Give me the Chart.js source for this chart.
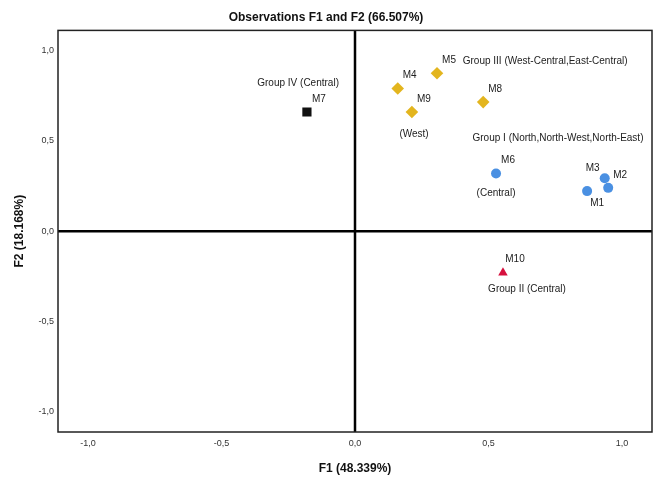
<!DOCTYPE html>
<html>
<head>
<meta charset="utf-8">
<script src="https://cdn.jsdelivr.net/npm/chart.js"></script>
<style>
  html,body{margin:0;padding:0;background:#fff;}
  #wrap{width:654px;height:477px;}
</style>
</head>
<body>
<div id="wrap"><canvas id="obs" width="654" height="477"></canvas></div>
<script>
/* ---------- DATA ---------- */
const obsNames = ["M1","M2","M3","M4","M5","M6","M7","M8","M9","M10"];
const f1Values = [0.869, 0.948, 0.935, 0.160, 0.307, 0.528, -0.180, 0.480, 0.213, 0.554];
const f2Values = [0.222, 0.240, 0.293, 0.790, 0.875, 0.320, 0.660, 0.715, 0.660, -0.230];
const groupOf  = ["I","I","I","III","III","I","IV","III","III","II"];
const tickValues = [-1, -0.5, 0, 0.5, 1];
// free text notes on the plot, in data units
const noteTexts = ["Group IV (Central)","Group III (West-Central,East-Central)","(West)",
  "Group I (North,North-West,North-East)","(Central)","Group II (Central)"];
const noteX = [-0.213, 0.712, 0.221, 0.760, 0.528, 0.644];
const noteY = [0.820, 0.942, 0.537, 0.515, 0.210, -0.321];

/* ---------- STYLES ---------- */
const groupStyle = {
  I:  {color:"#4a90e2", pointStyle:"circle",   radius:5},
  II: {color:"#d6103e", pointStyle:"triangle", radius:5.5},
  III:{color:"#e3b51e", pointStyle:"rectRot",  radius:6.3},
  IV: {color:"#111111", pointStyle:"rect",     radius:6.5}
};
const labelOffset = {M1:[10,12], M2:[12,-13], M3:[-12,-10]};
const defaultOffset = [12,-13];
const FONT = "'Liberation Sans', Arial, sans-serif";

const datasets = Object.keys(groupStyle).map(g => {
  const st = groupStyle[g];
  const idx = obsNames.map((n,i)=>i).filter(i=>groupOf[i]===g);
  return {
    label:"Group "+g,
    data: idx.map(i=>({x:f1Values[i], y:f2Values[i], name:obsNames[i]})),
    backgroundColor: st.color, borderColor: st.color, borderWidth:0,
    pointStyle: st.pointStyle, pointRadius: st.radius, pointHoverRadius: st.radius
  };
});

/* ---------- PLUGINS ---------- */
const frameAndText = {
  id:"frameAndText",
  beforeDatasetsDraw(chart){
    const {ctx, chartArea:a, scales:{x,y}} = chart;
    ctx.save();
    ctx.strokeStyle="#000"; ctx.lineWidth=2.5;
    const zx=x.getPixelForValue(0), zy=y.getPixelForValue(0);
    ctx.beginPath(); ctx.moveTo(zx,a.top); ctx.lineTo(zx,a.bottom);
    ctx.moveTo(a.left,zy); ctx.lineTo(a.right,zy); ctx.stroke();
    ctx.lineWidth=1.5; ctx.strokeStyle="#222";
    ctx.strokeRect(a.left,a.top,a.right-a.left,a.bottom-a.top);
    ctx.restore();
  },
  afterDatasetsDraw(chart){
    const {ctx, scales:{x,y}} = chart;
    ctx.save();
    ctx.font="10px "+FONT; ctx.fillStyle="#222";
    ctx.textAlign="center"; ctx.textBaseline="middle";
    obsNames.forEach((n,i)=>{
      const o = labelOffset[n] || defaultOffset;
      ctx.fillText(n, x.getPixelForValue(f1Values[i])+o[0], y.getPixelForValue(f2Values[i])+o[1]);
    });
    noteTexts.forEach((t,i)=>ctx.fillText(t, x.getPixelForValue(noteX[i]), y.getPixelForValue(noteY[i])));
    ctx.restore();
  }
};

/* ---------- CHART ---------- */
const fixTicks = s => { s.ticks = tickValues.map(v=>({value:v})); };
const fmt = v => v.toFixed(1).replace(".",",");

new Chart(document.getElementById("obs"),{
  type:"scatter",
  data:{datasets},
  plugins:[frameAndText],
  options:{
    responsive:false, animation:false,
    layout:{autoPadding:false, padding:{left:0,right:2,top:0,bottom:0}},
    plugins:{
      legend:{display:false}, tooltip:{enabled:false},
      title:{display:true, text:"Observations F1 and F2 (66.507%)", color:"#111",
        font:{family:FONT, size:12, weight:"bold"}, padding:{top:10,bottom:6}}
    },
    scales:{
      x:{min:-1.112, max:1.112, afterBuildTicks:fixTicks,
        afterFit(s){ s.height=45; s.paddingLeft=0; s.paddingRight=0; },
        grid:{display:false, drawTicks:false}, border:{display:false},
        ticks:{callback:fmt, color:"#333", padding:6, font:{family:FONT,size:9}},
        title:{display:true, text:"F1 (48.339%)", color:"#111", padding:{top:0,bottom:1},
          font:{family:FONT,size:12,weight:"bold"}}},
      y:{min:-1.112, max:1.112, afterBuildTicks:fixTicks,
        afterFit(s){ s.width=58; s.paddingTop=0; s.paddingBottom=0; },
        grid:{display:false, drawTicks:false}, border:{display:false},
        ticks:{callback:fmt, color:"#333", padding:4, font:{family:FONT,size:9}},
        title:{display:true, text:"F2 (18.168%)", color:"#111", padding:{top:12,bottom:0},
          font:{family:FONT,size:12,weight:"bold"}}}
    }
  }
});
</script>
</body>
</html>
